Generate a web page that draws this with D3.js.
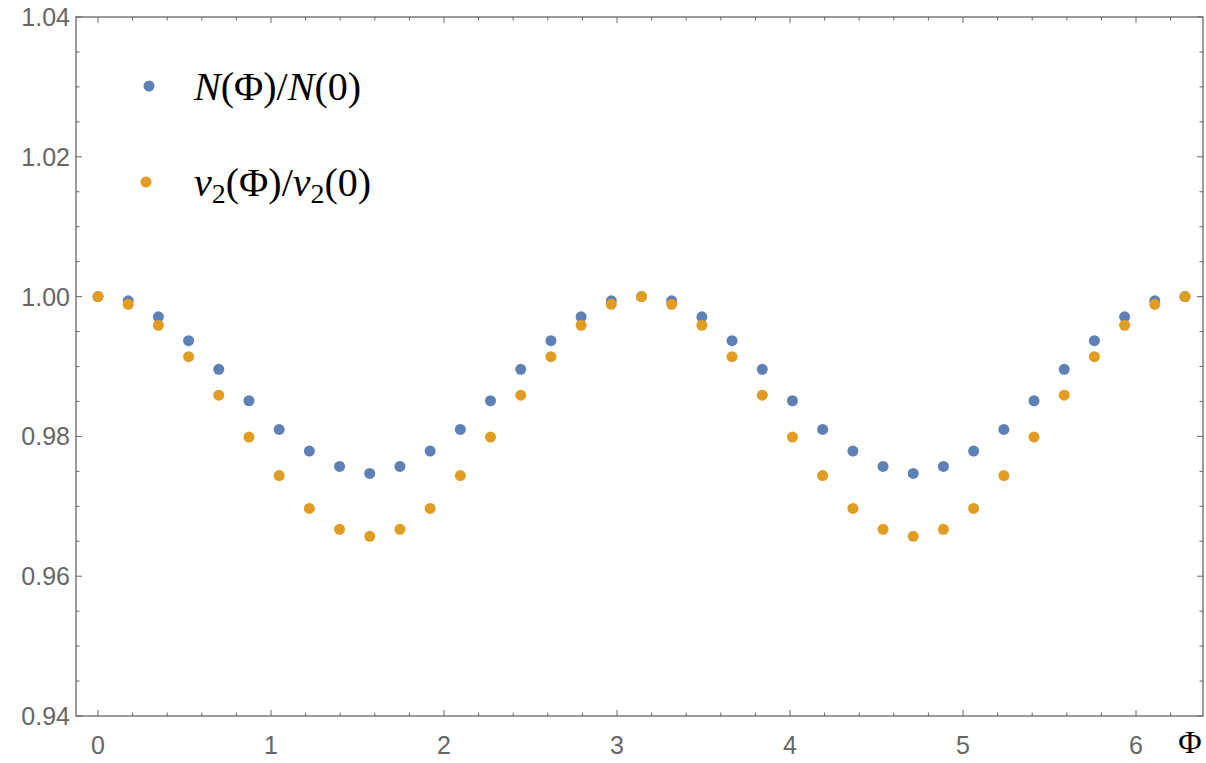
<!DOCTYPE html>
<html><head><meta charset="utf-8">
<script src="https://cdn.jsdelivr.net/npm/d3@7"></script>
<style>body{margin:0;background:#fff}svg{display:block}</style>
</head><body>
<svg width="1206" height="763"></svg>
<script>
// Phi sampled every 10 degrees, 0..2pi
const phi = d3.range(37).map(k => k * Math.PI / 18);
const nRatio = [1.0000,0.9994,0.9971,0.9937,0.9896,0.9851,0.9810,0.9779,0.9757,0.9747,
  0.9757,0.9779,0.9810,0.9851,0.9896,0.9937,0.9971,0.9994,1.0000,
  0.9994,0.9971,0.9937,0.9896,0.9851,0.9810,0.9779,0.9757,0.9747,
  0.9757,0.9779,0.9810,0.9851,0.9896,0.9937,0.9971,0.9994,1.0000];
const v2Ratio = [1.0000,0.9989,0.9959,0.9914,0.9859,0.9799,0.9744,0.9697,0.9667,0.9657,
  0.9667,0.9697,0.9744,0.9799,0.9859,0.9914,0.9959,0.9989,1.0000,
  0.9989,0.9959,0.9914,0.9859,0.9799,0.9744,0.9697,0.9667,0.9657,
  0.9667,0.9697,0.9744,0.9799,0.9859,0.9914,0.9959,0.9989,1.0000];
const xTicks = [0,1,2,3,4,5,6];
const yTicks = [0.94,0.96,0.98,1.00,1.02,1.04];

const svg = d3.select("svg");
const fL = 76, fR = 1203, fT = 17, fB = 716;
const x = d3.scaleLinear().domain([0, 6]).range([98, 1136]);
const y = d3.scaleLinear().domain([0.94, 1.04]).range([fB, fT]);
const frame = "#666";

svg.append("rect").attr("x", fL).attr("y", fT)
  .attr("width", fR - fL).attr("height", fB - fT)
  .attr("fill", "none").attr("stroke", frame).attr("stroke-width", 1.3);

// ticks (inward), on all four sides
const xMinor = d3.range(0, 6.4, 0.2).filter(v => x(v) < fR);
const yMinor = d3.range(0.94, 1.0401, 0.005);
const tg = svg.append("g").attr("stroke", frame).attr("stroke-width", 1);
xMinor.forEach(v => {
  const major = Math.abs(v - Math.round(v)) < 1e-6, len = major ? 6 : 3.5;
  tg.append("line").attr("x1", x(v)).attr("x2", x(v)).attr("y1", fB).attr("y2", fB - len);
  tg.append("line").attr("x1", x(v)).attr("x2", x(v)).attr("y1", fT).attr("y2", fT + len);
});
yMinor.forEach(v => {
  const major = Math.abs(v * 50 - Math.round(v * 50)) < 1e-6, len = major ? 6 : 3.5;
  tg.append("line").attr("y1", y(v)).attr("y2", y(v)).attr("x1", fL).attr("x2", fL + len);
  tg.append("line").attr("y1", y(v)).attr("y2", y(v)).attr("x1", fR).attr("x2", fR - len);
});

svg.append("g").selectAll("text").data(xTicks).join("text")
  .attr("x", d => x(d)).attr("y", 754).attr("text-anchor", "middle")
  .attr("font-family", "Liberation Sans, Arial, sans-serif").attr("font-size", 25)
  .attr("fill", "#666").text(d => d);
svg.append("g").selectAll("text").data(yTicks).join("text")
  .attr("x", 70).attr("y", d => y(d) + 9).attr("text-anchor", "end")
  .attr("font-family", "Liberation Sans, Arial, sans-serif").attr("font-size", 25)
  .attr("fill", "#666").text(d => d.toFixed(2));

svg.append("text").attr("x", 1190).attr("y", 753).attr("text-anchor", "middle")
  .attr("font-family", "Liberation Serif, DejaVu Serif, serif").attr("font-size", 32)
  .attr("fill", "#000").text("Φ");

const blue = "#5E81B5", orange = "#E19C24";
svg.append("g").selectAll("circle").data(phi).join("circle")
  .attr("cx", d => x(d)).attr("cy", (d, i) => y(nRatio[i])).attr("r", 5.5).attr("fill", blue);
svg.append("g").selectAll("circle").data(phi).join("circle")
  .attr("cx", d => x(d)).attr("cy", (d, i) => y(v2Ratio[i])).attr("r", 5.5).attr("fill", orange);

// legend
const lg = svg.append("g").attr("font-family", "Liberation Serif, DejaVu Serif, serif")
  .attr("font-size", 40).attr("fill", "#000");
lg.append("circle").attr("cx", 149).attr("cy", 86).attr("r", 5.5).attr("fill", blue);
lg.append("circle").attr("cx", 146).attr("cy", 182).attr("r", 5.5).attr("fill", orange);
const t1 = lg.append("text").attr("x", 194).attr("y", 100);
t1.append("tspan").attr("font-style", "italic").text("N");
t1.append("tspan").text("(Φ)/");
t1.append("tspan").attr("font-style", "italic").text("N");
t1.append("tspan").text("(0)");
const t2 = lg.append("text").attr("x", 194).attr("y", 196);
t2.append("tspan").attr("font-style", "italic").text("v");
t2.append("tspan").attr("font-size", 28).attr("dy", 7).text("2");
t2.append("tspan").attr("dy", -7).text("(Φ)/");
t2.append("tspan").attr("font-style", "italic").text("v");
t2.append("tspan").attr("font-size", 28).attr("dy", 7).text("2");
t2.append("tspan").attr("dy", -7).text("(0)");
</script>
</body></html>
